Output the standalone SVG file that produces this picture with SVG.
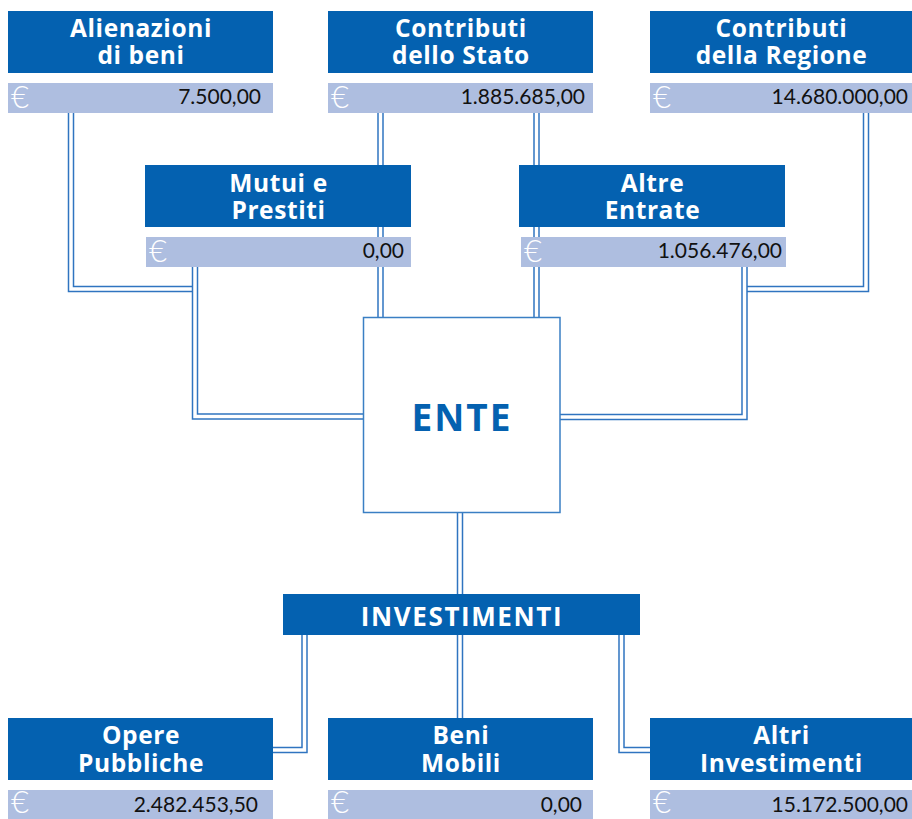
<svg xmlns="http://www.w3.org/2000/svg" width="912" height="819" viewBox="0 0 912 819">
<style>
.hd{fill:#0461B0}
.bar{fill:#AEBEE0}
.ht{font-family:"Open Sans",Lato,sans-serif;font-weight:bold;font-size:24.5px;letter-spacing:0.6px;fill:#fff;text-anchor:middle}
.val{font-family:Lato,"Open Sans",sans-serif;font-size:21px;fill:#111;text-anchor:end}
.eur{font-family:Lato,"Open Sans",sans-serif;font-weight:300;font-size:31px;fill:#fff}
.co{fill:none;stroke-linejoin:miter;stroke-linecap:butt}
.cb{stroke:#2F74C0;stroke-width:6.5}
.cw{stroke:#fff;stroke-width:3.5}
</style>
<rect width="912" height="819" fill="#fff"/>
<g id="connectors" class="co">
<path class="cb" d="M71,113 V289 H193"/><path class="cw" d="M71,113 V289 H193"/>
<path class="cb" d="M195,267 V416.5 H363"/><path class="cw" d="M195,267 V416.5 H363"/>
<path class="cb" d="M380.5,113 V317"/><path class="cw" d="M380.5,113 V317"/>
<path class="cb" d="M536.5,113 V317"/><path class="cw" d="M536.5,113 V317"/>
<path class="cb" d="M866,113 V289 H747"/><path class="cw" d="M866,113 V289 H747"/>
<path class="cb" d="M744.5,267 V417 H560"/><path class="cw" d="M744.5,267 V417 H560"/>
<path class="cb" d="M460,512 V594"/><path class="cw" d="M460,512 V594"/>
<path class="cb" d="M304.5,634 V750 H273"/><path class="cw" d="M304.5,634 V750 H273"/>
<path class="cb" d="M460,634 V718"/><path class="cw" d="M460,634 V718"/>
<path class="cb" d="M621.5,634 V750 H650"/><path class="cw" d="M621.5,634 V750 H650"/>
</g>
<g id="alienazioni">
<rect class="hd" x="8" y="11" width="265" height="62"/>
<text class="ht"><tspan x="141" y="37">Alienazioni</tspan><tspan x="141" y="64">di beni</tspan></text>
<rect class="bar" x="8" y="83" width="265" height="30"/>
<text class="eur" x="11" y="108">€</text>
<text class="val" x="261" y="104">7.500,00</text>
</g>
<g id="contributi-stato">
<rect class="hd" x="328" y="11" width="265" height="62"/>
<text class="ht"><tspan x="461" y="37">Contributi</tspan><tspan x="461" y="64">dello Stato</tspan></text>
<rect class="bar" x="328" y="83" width="265" height="30"/>
<text class="eur" x="331" y="108">€</text>
<text class="val" x="585" y="104">1.885.685,00</text>
</g>
<g id="contributi-regione">
<rect class="hd" x="650" y="11" width="262" height="62"/>
<text class="ht"><tspan x="781.5" y="37">Contributi</tspan><tspan x="781.5" y="64">della Regione</tspan></text>
<rect class="bar" x="650" y="83" width="262" height="30"/>
<text class="eur" x="653" y="108">€</text>
<text class="val" x="908" y="104">14.680.000,00</text>
</g>
<g id="mutui">
<rect class="hd" x="145" y="165" width="266" height="62"/>
<text class="ht"><tspan x="278.5" y="192">Mutui e</tspan><tspan x="278.5" y="219">Prestiti</tspan></text>
<rect class="bar" x="146" y="237" width="265" height="30"/>
<text class="eur" x="149" y="262">€</text>
<text class="val" x="404" y="258">0,00</text>
</g>
<g id="altre-entrate">
<rect class="hd" x="519" y="165" width="266" height="62"/>
<text class="ht"><tspan x="652.5" y="192">Altre</tspan><tspan x="652.5" y="219">Entrate</tspan></text>
<rect class="bar" x="521" y="237" width="265" height="30"/>
<text class="eur" x="524" y="262">€</text>
<text class="val" x="782" y="258">1.056.476,00</text>
</g>
<g id="ente">
<rect x="363.5" y="317.5" width="196.5" height="195" fill="#fff" stroke="#3A7FC4" stroke-width="1.5"/>
<text x="462" y="431" font-family="'Open Sans',Lato,sans-serif" font-weight="bold" font-size="37" letter-spacing="2" fill="#0461B0" text-anchor="middle">ENTE</text>
</g>
<g id="investimenti">
<rect class="hd" x="283" y="594" width="357" height="41"/>
<text class="ht" x="462" y="626" style="font-size:26px;letter-spacing:1.6px">INVESTIMENTI</text>
</g>
<g id="opere-pubbliche">
<rect class="hd" x="8" y="718" width="265" height="62"/>
<text class="ht"><tspan x="141" y="744">Opere</tspan><tspan x="141" y="772">Pubbliche</tspan></text>
<rect class="bar" x="8" y="790" width="265" height="29"/>
<text class="eur" x="11" y="813">€</text>
<text class="val" x="258" y="812">2.482.453,50</text>
</g>
<g id="beni-mobili">
<rect class="hd" x="328" y="718" width="265" height="62"/>
<text class="ht"><tspan x="461" y="744">Beni</tspan><tspan x="461" y="772">Mobili</tspan></text>
<rect class="bar" x="328" y="790" width="265" height="29"/>
<text class="eur" x="331" y="813">€</text>
<text class="val" x="582" y="812">0,00</text>
</g>
<g id="altri-investimenti">
<rect class="hd" x="650" y="718" width="262" height="62"/>
<text class="ht"><tspan x="781.5" y="744">Altri</tspan><tspan x="781.5" y="772">Investimenti</tspan></text>
<rect class="bar" x="650" y="790" width="262" height="29"/>
<text class="eur" x="653" y="813">€</text>
<text class="val" x="908" y="812">15.172.500,00</text>
</g>
</svg>
